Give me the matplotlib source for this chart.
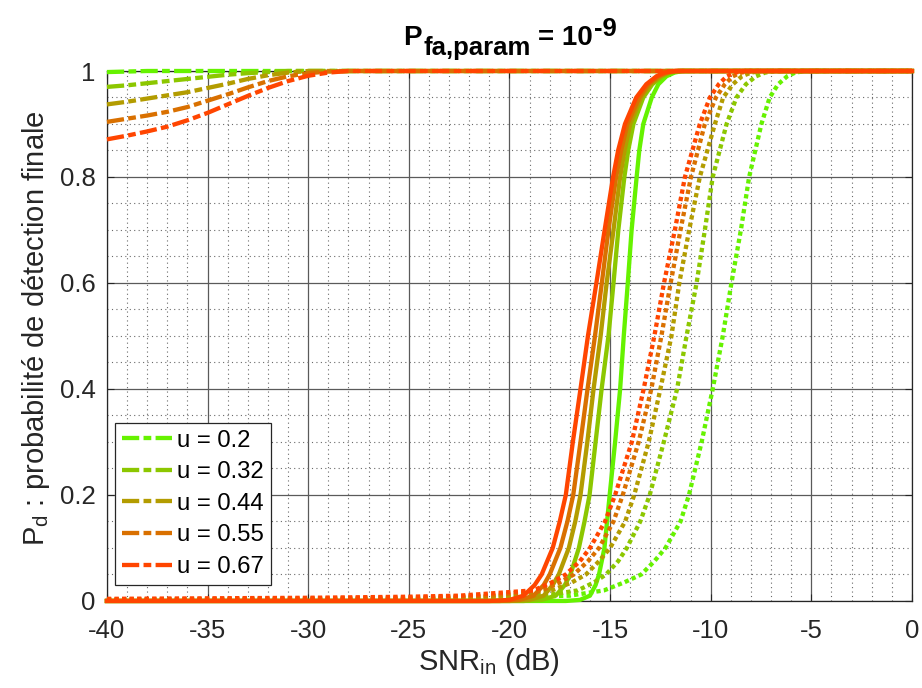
import matplotlib
matplotlib.use("Agg")
import matplotlib.pyplot as plt
from matplotlib.ticker import MultipleLocator

plt.rcParams['font.family'] = ['Liberation Sans', 'DejaVu Sans']
plt.rcParams['axes.unicode_minus'] = False
plt.rcParams['mathtext.fontset'] = 'custom'
plt.rcParams['mathtext.rm'] = 'Liberation Sans'
plt.rcParams['mathtext.it'] = 'Liberation Sans'
plt.rcParams['mathtext.bf'] = 'Liberation Sans:bold'

# parametre u et couleurs (vert -> rouge)
u_vals = [0.2, 0.32, 0.44, 0.55, 0.67]
colors = ['#66f200', '#8cc700', '#b39c00', '#d97000', '#ff4500']

# courbes tiret-point : Pd lu sur une grille de SNR
snr_dd = [-40, -39, -38, -37, -36, -35, -34, -33, -32, -31, -30, -29, -28, 0]
pd_dd_u020 = [0.998, 0.999, 1.0, 1.0, 1.0, 1.0, 1.0, 1.0, 1.0, 1.0, 1.0, 1.0, 1.0, 1.0]
pd_dd_u032 = [0.970, 0.973, 0.977, 0.981, 0.985, 0.989, 0.993, 0.996, 0.998, 1.0, 1.0, 1.0, 1.0, 1.0]
pd_dd_u044 = [0.937, 0.942, 0.948, 0.954, 0.960, 0.968, 0.976, 0.985, 0.992, 0.997, 1.0, 1.0, 1.0, 1.0]
pd_dd_u055 = [0.904, 0.910, 0.916, 0.923, 0.932, 0.944, 0.956, 0.969, 0.981, 0.990, 0.996, 0.999, 1.0, 1.0]
pd_dd_u067 = [0.871, 0.878, 0.886, 0.895, 0.907, 0.921, 0.937, 0.953, 0.968, 0.981, 0.991, 0.997, 1.0, 1.0]

# courbes pleines : SNR auquel chaque niveau de Pd est atteint
pd_levels_solid = [0.0, 0.0, 0.002, 0.01, 0.03, 0.05, 0.1, 0.15, 0.2, 0.3, 0.4, 0.5, 0.6,
                   0.7, 0.8, 0.85, 0.9, 0.95, 0.975, 0.99, 0.997, 1.0, 1.0]
snr_solid_u020 = [-40, -17.2, -16.5, -16.0, -15.72, -15.55, -15.28, -15.15, -15.02, -14.75, -14.5,
                  -14.32, -14.12, -13.93, -13.68, -13.55, -13.35, -12.93, -12.6, -12.2, -11.8, -11.4, 0]
snr_solid_u032 = [-40, -19.3, -18.4, -17.7, -17.25, -16.97, -16.55, -16.27, -16.02, -15.72, -15.42,
                  -15.08, -14.83, -14.59, -14.29, -14.1, -13.84, -13.35, -12.9, -12.4, -12.0, -11.5, 0]
snr_solid_u044 = [-40, -20.0, -19.0, -18.3, -17.85, -17.55, -17.05, -16.73, -16.47, -16.13, -15.82,
                  -15.47, -15.17, -14.83, -14.5, -14.28, -14.0, -13.46, -13.0, -12.5, -12.1, -11.6, 0]
snr_solid_u055 = [-40, -20.5, -19.5, -18.8, -18.3, -18.0, -17.47, -17.12, -16.83, -16.47, -16.12,
                  -15.75, -15.41, -15.08, -14.7, -14.45, -14.14, -13.55, -13.1, -12.6, -12.2, -11.7, 0]
snr_solid_u067 = [-40, -21.0, -20.0, -19.3, -18.75, -18.4, -17.85, -17.5, -17.2, -16.85, -16.47,
                  -16.1, -15.68, -15.27, -14.85, -14.6, -14.26, -13.7, -13.2, -12.7, -12.3, -11.8, 0]

# courbes pointillees : plancher a faible SNR puis montee
snr_dot_tail = [-40, -35, -30, -25]
pd_dot_tail_u020 = [0.0005, 0.0007, 0.001, 0.0015]
pd_dot_tail_u032 = [0.001, 0.0015, 0.002, 0.003]
pd_dot_tail_u044 = [0.002, 0.0025, 0.003, 0.004]
pd_dot_tail_u055 = [0.003, 0.0035, 0.0045, 0.006]
pd_dot_tail_u067 = [0.004, 0.005, 0.006, 0.008]

pd_levels_dot = [0.01, 0.02, 0.035, 0.05, 0.075, 0.1, 0.15, 0.2, 0.3, 0.4, 0.5, 0.6, 0.7,
                 0.8, 0.9, 0.95, 0.975, 0.99, 0.997, 1.0, 1.0]
snr_dot_u020 = [-17.0, -15.3, -14.3, -13.45, -12.8, -12.25, -11.5, -11.08, -10.45, -9.9, -9.4,
                -8.97, -8.5, -8.09, -7.48, -7.07, -6.65, -6.2, -5.8, -5.3, 0]
snr_dot_u032 = [-18.3, -16.6, -15.8, -15.2, -14.6, -14.17, -13.5, -13.03, -12.33, -11.67, -11.2,
                -10.7, -10.29, -9.9, -9.21, -8.72, -8.25, -7.75, -7.3, -6.8, 0]
snr_dot_u044 = [-19.8, -17.9, -16.9, -16.2, -15.55, -15.0, -14.25, -13.8, -13.08, -12.5, -11.95,
                -11.56, -11.07, -10.54, -9.79, -9.38, -8.9, -8.45, -8.0, -7.5, 0]
snr_dot_u055 = [-21.0, -18.4, -17.5, -16.8, -16.1, -15.55, -14.83, -14.37, -13.58, -12.95, -12.45,
                -11.99, -11.5, -10.98, -10.29, -9.74, -9.3, -8.9, -8.5, -8.0, 0]
snr_dot_u067 = [-22.5, -18.8, -17.9, -17.2, -16.5, -16.0, -15.25, -14.75, -13.92, -13.33, -12.8,
                -12.32, -11.78, -11.28, -10.54, -10.04, -9.6, -9.2, -8.8, -8.3, 0]

pd_dd = [pd_dd_u020, pd_dd_u032, pd_dd_u044, pd_dd_u055, pd_dd_u067]
snr_solid = [snr_solid_u020, snr_solid_u032, snr_solid_u044, snr_solid_u055, snr_solid_u067]
pd_dot_tail = [pd_dot_tail_u020, pd_dot_tail_u032, pd_dot_tail_u044, pd_dot_tail_u055, pd_dot_tail_u067]
snr_dot = [snr_dot_u020, snr_dot_u032, snr_dot_u044, snr_dot_u055, snr_dot_u067]

fig = plt.figure(figsize=(9.22, 6.88), dpi=100)
ax = fig.add_axes([0.116, 0.1265, 0.8731, 0.7703])

lw = 3.1
for i, u in enumerate(u_vals):
    c = colors[i]
    ax.plot(snr_dd, pd_dd[i], color=c, lw=lw, dashes=(4.0, 1.0, 1.8, 1.0),
            label='u = %g' % u, clip_on=False, zorder=3)
    ax.plot(snr_solid[i], pd_levels_solid, color=c, lw=lw, clip_on=False, zorder=3)
    ax.plot(snr_dot_tail + snr_dot[i], pd_dot_tail[i] + pd_levels_dot, color=c, lw=lw,
            dashes=(1.0, 0.75), clip_on=False, zorder=3)

ax.set_xlim(-40, 0)
ax.set_ylim(0, 1)
ax.xaxis.set_major_locator(MultipleLocator(5))
ax.xaxis.set_minor_locator(MultipleLocator(1))
ax.yaxis.set_minor_locator(MultipleLocator(0.05))
ax.set_yticks([0, 0.2, 0.4, 0.6, 0.8, 1.0])
ax.set_yticklabels(['0', '0.2', '0.4', '0.6', '0.8', '1'])

ax.grid(which='major', color='#5a5a5a', lw=0.9, ls='-')
ax.grid(which='minor', color='#6a6a6a', lw=0.8, ls=(0, (1, 3)))
ax.set_axisbelow(True)
ax.tick_params(which='both', direction='in', labelsize=18.5, colors='#262626',
               top=True, right=True)
ax.tick_params(which='major', length=5)
ax.tick_params(axis='x', which='major', pad=13)
ax.tick_params(axis='y', which='major', pad=8)
ax.tick_params(which='minor', length=0)
for s in ax.spines.values():
    s.set_color('#262626')
    s.set_linewidth(0.9)

ax.set_xlabel(r'SNR$_{\mathrm{in}}$ (dB)', fontsize=21, color='#262626')
ax.set_ylabel(r'P$_{\mathrm{d}}$ : probabilité de détection finale', fontsize=21,
              color='#262626')
ax.xaxis.set_label_coords(0.475, -0.085)
ax.yaxis.set_label_coords(-0.068, 0.515)

# titre en morceaux (indice et exposant presque a la taille du texte, facon MATLAB)
renderer = fig.canvas.get_renderer()
title_parts = [('P', 20, 0, 2), ('fa,param', 18.5, -10, 7), ('= 10', 20, 0, 1), ('-9', 18.5, 9, 0)]
widths = []
for s, size, dy, gap in title_parts:
    t = fig.text(0, 0, s, fontsize=size, fontweight='bold')
    widths.append(t.get_window_extent(renderer).width)
    t.remove()
total = sum(widths) + sum(p[3] for p in title_parts)
x_px = 0.5 * (107 + 912) - total / 2
base_px = 688 - 45
for (s, size, dy, gap), w in zip(title_parts, widths):
    fig.text(x_px / 922, (base_px + dy) / 688, s, fontsize=size, fontweight='bold',
             va='baseline', ha='left')
    x_px += w + gap

leg = ax.legend(loc='lower left', bbox_to_anchor=(0.01, 0.03), borderaxespad=0,
                fontsize=17.2, handlelength=2.1, handletextpad=0.2, labelspacing=0.4,
                borderpad=0.3, fancybox=False, framealpha=1, edgecolor='#262626')
leg.get_frame().set_linewidth(0.9)

fig.savefig('out.png', dpi=100)
